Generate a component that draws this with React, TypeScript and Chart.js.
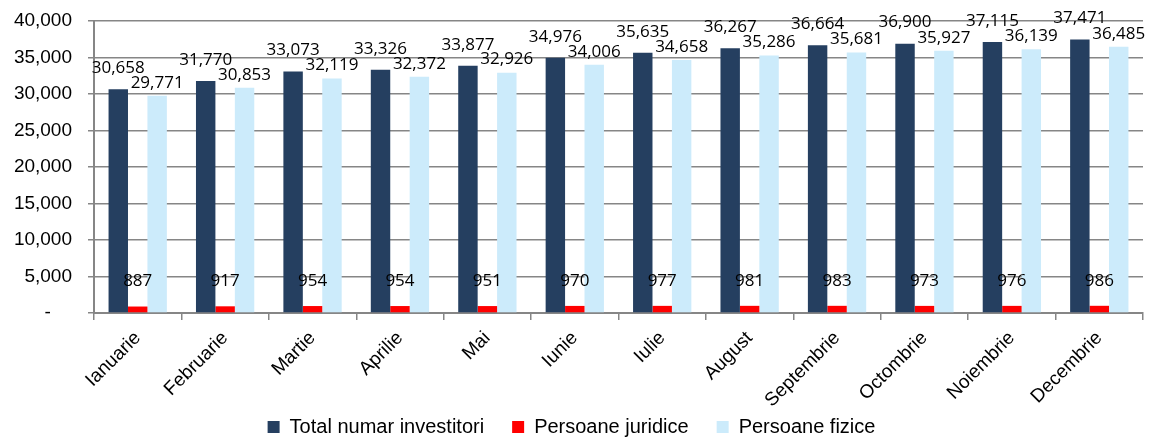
import React, { useEffect, useRef } from "react";
import { Chart, registerables } from "chart.js";

Chart.register(...registerables);

const months = [
  "Ianuarie", "Februarie", "Martie", "Aprilie", "Mai", "Iunie",
  "Iulie", "August", "Septembrie", "Octombrie", "Noiembrie", "Decembrie",
];
const totalInvestitori = [30658, 31770, 33073, 33326, 33877, 34976, 35635, 36267, 36664, 36900, 37115, 37471];
const persoaneJuridice = [887, 917, 954, 954, 951, 970, 977, 981, 983, 973, 976, 986];
const persoaneFizice = [29771, 30853, 32119, 32372, 32926, 34006, 34658, 35286, 35681, 35927, 36139, 36485];
const seriesNames = ["Total numar investitori", "Persoane juridice", "Persoane fizice"];

const fmt = (v: number) => v.toLocaleString("en-US");

const labelPlugin = {
  id: "barLabels",
  afterLayout(chart: any) {
    const lg = chart.legend;
    if (lg) {
      lg.top = 389;
      lg.bottom = chart.height;
      lg.height = lg.bottom - lg.top;
    }
  },
  afterDatasetsDraw(chart: any) {
    const ctx = chart.ctx;
    ctx.save();
    ctx.font = "17px 'Open Sans'";
    ctx.fillStyle = "#000";
    ctx.textAlign = "center";
    ctx.textBaseline = "middle";
    chart.data.datasets.forEach((ds: any, i: number) => {
      const meta = chart.getDatasetMeta(i);
      meta.data.forEach((el: any, j: number) => {
        const v = ds.data[j];
        let y = el.y;
        if (i === 0) y = el.y - 21;
        else if (i === 1) y = el.y - 25;
        else y = el.y - 13;
        ctx.fillText(fmt(v), el.x, y);
      });
    });
    ctx.restore();
  },
};

export default function App() {
  const ref = useRef<HTMLCanvasElement | null>(null);
  useEffect(() => {
    document.body.style.margin = "0";
    const chart = new Chart(ref.current as HTMLCanvasElement, {
      type: "bar",
      data: {
        labels: months,
        datasets: [
          { label: seriesNames[0], data: totalInvestitori, backgroundColor: "#253F60" },
          { label: seriesNames[1], data: persoaneJuridice, backgroundColor: "#FF0000" },
          { label: seriesNames[2], data: persoaneFizice, backgroundColor: "#CCEBFB" },
        ],
      },
      options: {
        animation: false,
        responsive: true,
        maintainAspectRatio: false,
        datasets: { bar: { categoryPercentage: 0.667, barPercentage: 1 } },
        layout: { padding: { top: 21, right: 9, left: 0, bottom: 0 } },
        plugins: {
          tooltip: { enabled: false },
          legend: {
            position: "bottom",
            maxHeight: 24,
            labels: {
              boxWidth: 12,
              boxHeight: 12,
              padding: 28,
              color: "#000",
              font: { family: "'Liberation Sans', Arial", size: 20 },
            },
          },
        },
        scales: {
          x: {
            grid: {
              offset: true,
              drawOnChartArea: false,
              color: "#868686",
              lineWidth: 1.5,
              tickLength: 7,
            },
            border: { color: "#868686", width: 2 },
            ticks: {
              color: "#000",
              maxRotation: 45,
              minRotation: 45,
              autoSkip: false,
              padding: 7,
              font: { family: "'Liberation Sans', Arial", size: 19 },
            },
            afterFit: (axis: any) => {
              axis.height = 100;
              axis.paddingLeft = 0;
              axis.paddingRight = 0;
              axis.paddingTop = 0;
              axis.paddingBottom = 0;
            },
          },
          y: {
            min: 0,
            max: 40000,
            grid: { color: "#868686", lineWidth: 1.5, tickLength: 6 },
            border: { color: "#868686", width: 2 },
            ticks: {
              stepSize: 5000,
              color: "#000",
              padding: 16,
              font: { family: "'Liberation Sans', Arial", size: 19 },
              callback: (v: any) => (v === 0 ? "-    " : fmt(Number(v))),
            },
            afterFit: (axis: any) => {
              axis.width = 94;
              axis.paddingTop = 0;
              axis.paddingBottom = 0;
              axis.paddingLeft = 0;
              axis.paddingRight = 0;
            },
          },
        },
      },
      plugins: [labelPlugin],
    } as any);
    return () => chart.destroy();
  }, []);
  return (
    <div style={{ width: 1152, height: 437, position: "relative" }}>
      <canvas ref={ref} />
    </div>
  );
}
